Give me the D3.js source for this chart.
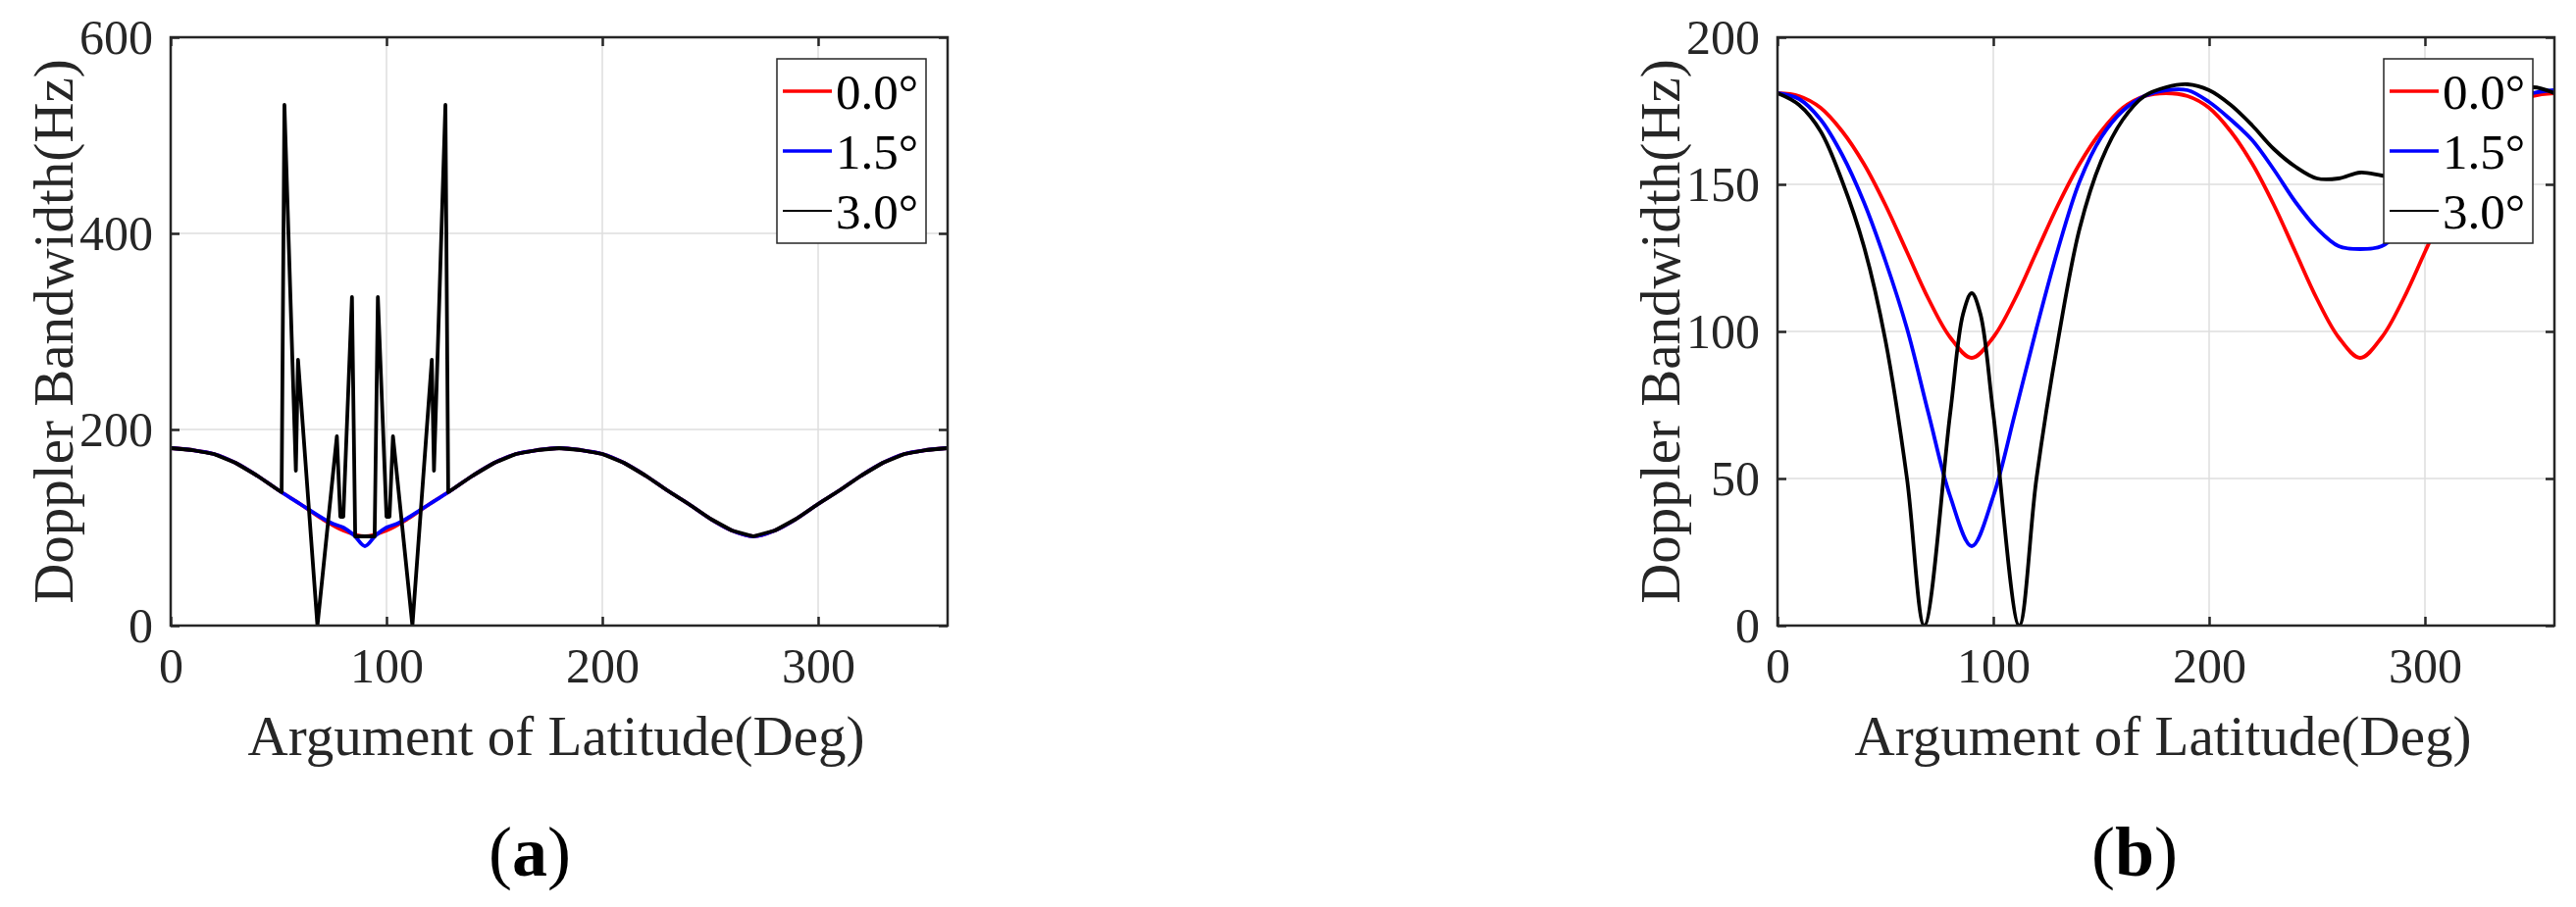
<!DOCTYPE html>
<html>
<head>
<meta charset="utf-8">
<script src="https://cdn.jsdelivr.net/npm/d3@7"></script>
<style>
  body { margin: 0; background: #fff; }
  text { font-family: "Liberation Serif", "Times New Roman", serif; }
</style>
</head>
<body>
<svg id="fig" width="2626" height="925"></svg>
<script>
// ---- data ----
var seriesNames = ["0.0\u00b0", "1.5\u00b0", "3.0\u00b0"];
var seriesColors = ["#ff0000", "#0000ff", "#000000"];

// common x grid for the smooth curves
var u10 = [0,10,20,30,40,50,60,70,80,90,100,110,120,130,140,150,160,170,180,
           190,200,210,220,230,240,250,260,270,280,290,300,310,320,330,340,350,360];

// (a) red 0.0 deg
var aRed = [181,179,175,166,153,138,124,109,97,91,97,109,124,138,153,166,175,179,181,
            179,175,166,153,138,124,109,97,91,97,109,124,138,153,166,175,179,181];
// (a) blue 1.5 deg
var aBlueX = [0,10,20,30,40,50,60,70,75,80,85,90,95,100,105,110,120,130,140,150,160,170,180,
              190,200,210,220,230,240,250,260,270,280,290,300,310,320,330,340,350,360];
var aBlueY = [181,179,175,166,153,138,124,110,104,100,92,81,92,100,104,110,124,138,153,166,175,179,181,
              179,175,166,153,138,124,109,97,91,97,109,124,138,153,166,175,179,181];
// (a) black 3.0 deg
var aBlackX = [0,10,20,30,40,50,51.4,52.7,58,59,68,77,78.6,80,84,85.5,94.5,96,100,101.4,103,112,
               121,122,127.3,128.6,140,150,160,170,180,190,200,210,220,230,240,250,260,270,280,
               290,300,310,320,330,340,350,360];
var aBlackY = [181,179,175,166,153,138,136,531,158,271,0,193,111,111,335,91,91,335,111,111,193,0,
               271,158,531,136,153,166,175,179,181,179,175,166,153,138,124,109,97,91,97,
               109,124,138,153,166,175,179,181];

// (b)
var bRed = [181,180,176,168,157,143,127,111,98,91,98,111,127,143,157,168,176,180,181,
            180,176,168,157,143,127,111,98,91,98,111,127,143,157,168,176,180,181];
var bBlue = [181,179,172,160,144,124,101,72,44,27,44,72,101,128,151,166,175,180,182,
             182,178,172,165,155,144,135,129,128,129,135,144,155,165,173,178,181,182];
var bBlackX = [0,10,20,30,40,50,60,68,80,86,90,94,100,112,120,130,140,150,160,170,180,
               190,200,210,220,230,240,250,260,270,280,290,300,310,320,330,340,350,360];
var bBlackY = [181,177,168,151,129,97,50,0,72,106,113,106,72,0,50,97,135,158,172,180,183,
               184,182,177,170,162,156,152,152,154,153,152,156,163,171,177,181,183,181];

var xTicks = [0,100,200,300];
var aYTicks = [0,200,400,600];
var bYTicks = [0,50,100,150,200];

var svg = d3.select("#fig");
var axisColor = "#262626";

function zip(xs, ys) { return xs.map(function(x, i) { return [x, ys[i]]; }); }

function drawPanel(opt) {
  var g = svg.append("g");
  var x = d3.scaleLinear().domain([0, 360]).range([opt.left, opt.left + 792]);
  var y = d3.scaleLinear().domain([0, opt.yMax]).range([638, 38]);

  // grid
  g.selectAll(".gx").data(xTicks).enter().append("line")
    .attr("x1", d => x(d)).attr("x2", d => x(d)).attr("y1", 38).attr("y2", 638)
    .attr("stroke", "#dedede").attr("stroke-width", 1.5);
  g.selectAll(".gy").data(opt.yTicks).enter().append("line")
    .attr("x1", x(0)).attr("x2", x(360)).attr("y1", d => y(d)).attr("y2", d => y(d))
    .attr("stroke", "#dedede").attr("stroke-width", 1.5);

  var clipId = "clip" + opt.id;
  svg.append("clipPath").attr("id", clipId).append("rect")
    .attr("x", x(0)).attr("y", 38).attr("width", 792).attr("height", 600);

  opt.series.forEach(function(s) {
    var line = d3.line().x(d => x(d[0])).y(d => y(d[1])).curve(s.curve);
    g.append("path").datum(s.pts)
      .attr("clip-path", "url(#" + clipId + ")")
      .attr("fill", "none").attr("stroke", s.color).attr("stroke-width", 3.8)
      .attr("stroke-linejoin", "round").attr("d", line);
  });

  // box
  g.append("rect").attr("x", x(0)).attr("y", 38).attr("width", 792).attr("height", 600)
    .attr("fill", "none").attr("stroke", axisColor).attr("stroke-width", 2.5);

  // axes with inward ticks
  var bottom = g.append("g").attr("transform", "translate(0,638)")
    .call(d3.axisBottom(x).tickValues(xTicks).tickSizeInner(-9).tickSizeOuter(0).tickPadding(22));
  var top = g.append("g").attr("transform", "translate(0,38)")
    .call(d3.axisTop(x).tickValues(xTicks).tickSizeInner(-9).tickSizeOuter(0).tickFormat(""));
  var left = g.append("g").attr("transform", "translate(" + x(0) + ",0)")
    .call(d3.axisLeft(y).tickValues(opt.yTicks).tickSizeInner(-9).tickSizeOuter(0).tickPadding(18));
  var right = g.append("g").attr("transform", "translate(" + x(360) + ",0)")
    .call(d3.axisRight(y).tickValues(opt.yTicks).tickSizeInner(-9).tickSizeOuter(0).tickFormat(""));
  [bottom, top, left, right].forEach(function(a) {
    a.select(".domain").remove();
    a.selectAll("line").attr("stroke", axisColor).attr("stroke-width", 2.5);
    a.selectAll("text").attr("fill", axisColor).style("font-size", "50px")
      .style("font-family", "'Liberation Serif', serif");
  });
  bottom.selectAll("text").attr("dy", "0.71em");

  // labels
  g.append("text").attr("x", x(180) - 3).attr("y", 770).attr("text-anchor", "middle")
    .attr("fill", axisColor).style("font-size", "57px").text("Argument of Latitude(Deg)");
  g.append("text").attr("transform", "translate(" + (opt.left - 100) + ",338) rotate(-90)")
    .attr("text-anchor", "middle").attr("fill", axisColor).style("font-size", "57px")
    .text("Doppler Bandwidth(Hz)");

  // caption
  var cap = g.append("text").attr("x", opt.capX).attr("y", 893).attr("text-anchor", "middle")
    .attr("fill", "#000").style("font-size", "72px");
  cap.append("tspan").text("(");
  cap.append("tspan").style("font-weight", "bold").text(opt.cap);
  cap.append("tspan").text(")");

  // legend
  var lx = x(360) - 174, ly = 60;
  g.append("rect").attr("x", lx).attr("y", ly).attr("width", 152).attr("height", 188)
    .attr("fill", "#fff").attr("stroke", axisColor).attr("stroke-width", 1.5);
  seriesNames.forEach(function(n, i) {
    var cy = ly + 33 + i * 61;
    g.append("line").attr("x1", lx + 6).attr("x2", lx + 56).attr("y1", cy).attr("y2", cy)
      .attr("stroke", seriesColors[i]).attr("stroke-width", i === 2 ? 2 : 3.5);
    g.append("text").attr("x", lx + 60).attr("y", cy + 18).attr("fill", "#000")
      .style("font-size", "51px").text(n);
  });
}

var smooth = d3.curveCatmullRom.alpha(0.5);

drawPanel({
  id: "a", left: 174, yMax: 600, yTicks: aYTicks, cap: "a", capX: 540,
  series: [
    { color: seriesColors[0], pts: zip(u10, aRed), curve: smooth },
    { color: seriesColors[1], pts: zip(aBlueX, aBlueY), curve: smooth },
    { color: seriesColors[2], pts: zip(aBlackX, aBlackY), curve: d3.curveLinear }
  ]
});

drawPanel({
  id: "b", left: 1812, yMax: 200, yTicks: bYTicks, cap: "b", capX: 2176,
  series: [
    { color: seriesColors[0], pts: zip(u10, bRed), curve: smooth },
    { color: seriesColors[1], pts: zip(u10, bBlue), curve: smooth },
    { color: seriesColors[2], pts: zip(bBlackX, bBlackY), curve: smooth }
  ]
});
</script>
</body>
</html>
